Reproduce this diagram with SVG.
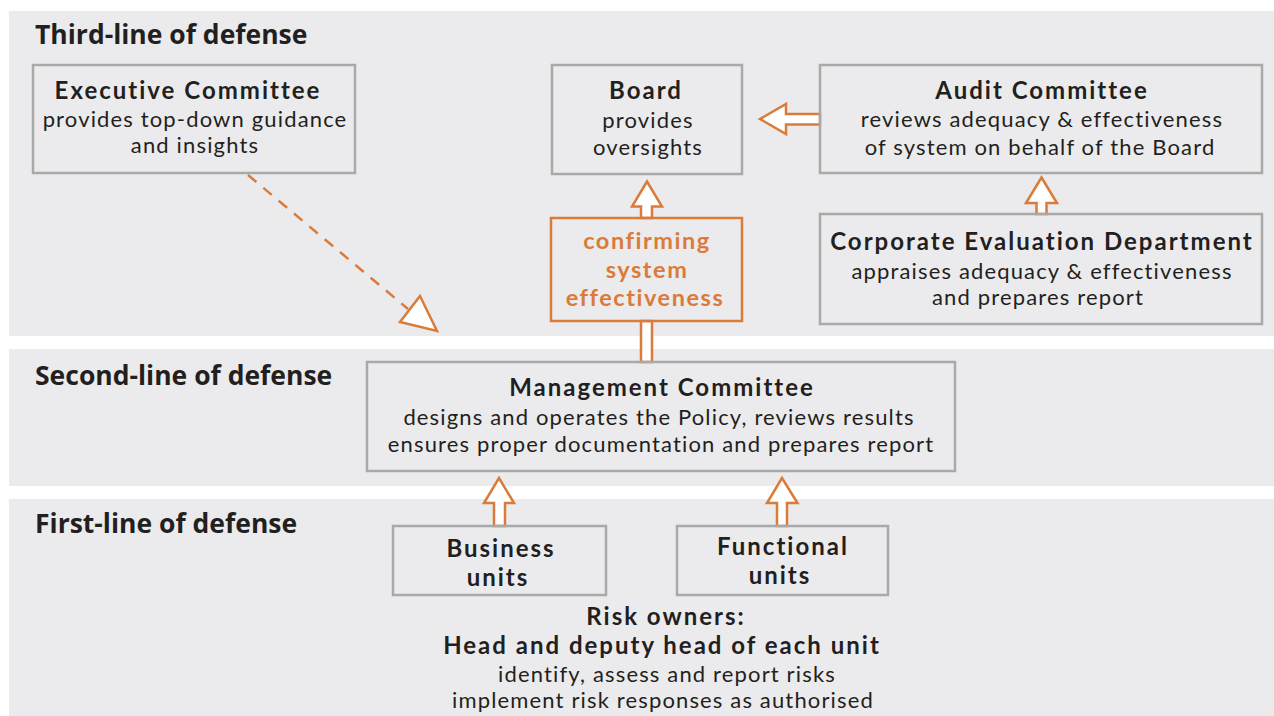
<svg xmlns="http://www.w3.org/2000/svg" width="1274" height="716" viewBox="0 0 1274 716">
<defs>
<style>
.band{fill:#EBEBED}
.box{fill:none;stroke:#A9A9A9;stroke-width:2.5}
.obox{fill:none;stroke:#DA7B3A;stroke-width:2.5}
.arr{fill:#FFFFFF;stroke:#DA7B3A;stroke-width:2.5;stroke-linejoin:miter}
.dash{fill:none;stroke:#DA7B3A;stroke-width:2.5;stroke-dasharray:11 9}
text{font-family:Lato,"Open Sans",sans-serif;fill:#231F20;text-anchor:middle}
.h{font-family:"Open Sans",sans-serif;font-weight:700;font-size:26.5px;text-anchor:start}
.b{font-weight:700;font-size:24px;letter-spacing:2px}
.r{font-size:22px;letter-spacing:1.15px}
.o{font-weight:700;font-size:23.5px;letter-spacing:1.55px;fill:#DA7B3A}
</style>
</defs>
<rect x="0" y="0" width="1274" height="716" fill="#FFFFFF"/>
<g id="bands">
<rect class="band" x="9" y="11" width="1265" height="325"/>
<rect class="band" x="9" y="349" width="1265" height="137"/>
<rect class="band" x="9" y="499" width="1265" height="217"/>
<text class="h" x="35" y="44">Third-line of defense</text>
<text class="h" x="35" y="385">Second-line of defense</text>
<text class="h" x="35" y="533">First-line of defense</text>
</g>
<g id="connectors">
<path class="dash" d="M248,175 L408,309"/>
<polygon class="arr" points="420,296 400,322 437,331"/>
<polygon class="arr" points="641,218 641,206.5 632,206.5 647,181.5 662,206.5 652,206.5 652,218"/>
<polygon class="arr" points="641,321 652,321 652,362 641,362"/>
<polygon class="arr" points="820,114 786,114 786,104 760,119 786,134 786,124.5 820,124.5"/>
<polygon class="arr" points="1036.5,214 1036.5,203 1026,203 1041.5,177.5 1057,203 1046.5,203 1046.5,214"/>
<polygon class="arr" points="494,526 494,503 484,503 499,478 514,503 505,503 505,526"/>
<polygon class="arr" points="777,526 777,503 767,503 782,478 797.5,503 787,503 787,526"/>
</g>
<g id="exec">
<rect class="box" x="33" y="65" width="322" height="108"/>
<text class="b" x="188" y="99">Executive Committee</text>
<text class="r" x="195" y="127">provides top-down guidance</text>
<text class="r" x="195" y="153">and insights</text>
</g>
<g id="board">
<rect class="box" x="552" y="65" width="190" height="109"/>
<text class="b" x="646" y="99">Board</text>
<text class="r" x="648" y="128">provides</text>
<text class="r" x="648" y="155">oversights</text>
</g>
<g id="audit">
<rect class="box" x="820" y="65" width="442" height="108"/>
<text class="b" x="1042" y="99">Audit Committee</text>
<text class="r" x="1042" y="127">reviews adequacy &amp; effectiveness</text>
<text class="r" x="1040" y="155">of system on behalf of the Board</text>
</g>
<g id="corporate">
<rect class="box" x="820" y="214" width="442" height="110"/>
<text class="b" x="1042" y="250">Corporate Evaluation Department</text>
<text class="r" x="1042" y="279">appraises adequacy &amp; effectiveness</text>
<text class="r" x="1038" y="305">and prepares report</text>
</g>
<g id="confirming">
<rect class="obox" x="551" y="218" width="191" height="103"/>
<text class="o" x="647" y="249">confirming</text>
<text class="o" x="647" y="278">system</text>
<text class="o" x="645" y="306">effectiveness</text>
</g>
<g id="management">
<rect class="box" x="367" y="362" width="588" height="109"/>
<text class="b" x="662" y="396">Management Committee</text>
<text class="r" x="659" y="425">designs and operates the Policy, reviews results</text>
<text class="r" x="661" y="452">ensures proper documentation and prepares report</text>
</g>
<g id="business">
<rect class="box" x="393" y="526" width="213" height="69"/>
<text class="b" x="501" y="557">Business</text>
<text class="b" x="498" y="586">units</text>
</g>
<g id="functional">
<rect class="box" x="677" y="526" width="211" height="69"/>
<text class="b" x="783" y="555">Functional</text>
<text class="b" x="780" y="584">units</text>
</g>
<g id="riskowners">
<text class="b" x="666" y="625">Risk owners:</text>
<text class="b" x="662" y="654">Head and deputy head of each unit</text>
<text class="r" x="667" y="682">identify, assess and report risks</text>
<text class="r" x="663" y="708">implement risk responses as authorised</text>
</g>
</svg>
